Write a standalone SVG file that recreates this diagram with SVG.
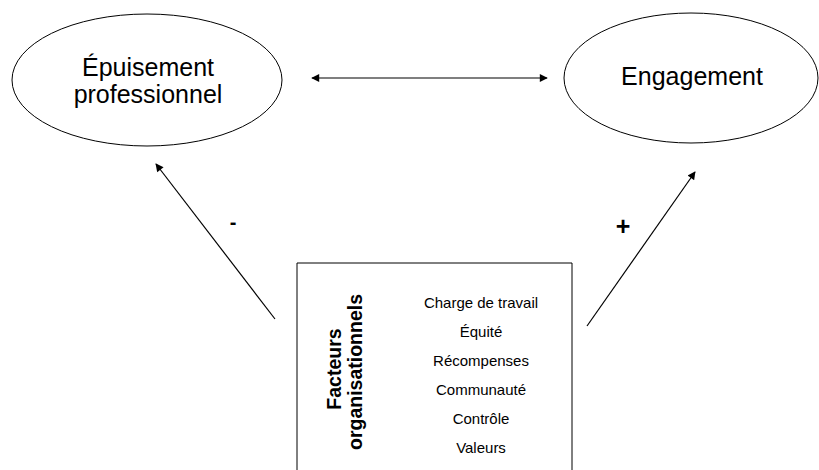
<svg xmlns="http://www.w3.org/2000/svg" width="819" height="470" viewBox="0 0 819 470">
<style>
.node{fill:#fff;stroke:#000;stroke-width:1}
.t{font-family:"Liberation Sans",Arial,sans-serif;fill:#000;text-anchor:middle}
.big{font-size:25px}
.item{font-size:15px}
.bold{font-size:19.5px;font-weight:bold}
.conn{stroke:#000;stroke-width:1.2;fill:none}
</style>
<defs>
<marker id="ah" viewBox="0 0 10 10" refX="9" refY="5" markerWidth="10" markerHeight="8" markerUnits="userSpaceOnUse" orient="auto-start-reverse">
<path d="M0,0 L10,5 L0,10 z" fill="#000"/>
</marker>
</defs>
<rect width="819" height="470" fill="#fff"/>
<g id="connectors">
<line class="conn" x1="312" y1="78" x2="547" y2="78" marker-start="url(#ah)" marker-end="url(#ah)"/>
<line class="conn" x1="275" y1="319" x2="156" y2="164" marker-end="url(#ah)"/>
<line class="conn" x1="587" y1="326" x2="695" y2="172" marker-end="url(#ah)"/>
<text class="t" x="233" y="229" style="font-size:20px;font-weight:bold">-</text>
<text class="t" x="623" y="235" style="font-size:25px;font-weight:bold">+</text>
</g>
<g id="epuisement">
<ellipse class="node" cx="147" cy="80" rx="135" ry="66"/>
<text class="t big" x="148" y="76">Épuisement</text>
<text class="t big" x="148" y="103">professionnel</text>
</g>
<g id="engagement">
<ellipse class="node" cx="691" cy="78" rx="127" ry="65"/>
<text class="t big" x="692" y="85">Engagement</text>
</g>
<g id="facteurs">
<path class="node" d="M297,472 L297,263 L572,263 L572,472"/>
<text class="t bold" transform="translate(341,369) rotate(-90)">Facteurs</text>
<text class="t bold" transform="translate(362,372) rotate(-90)">organisationnels</text>
<text class="t item" x="481" y="308">Charge de travail</text>
<text class="t item" x="481" y="337">Équité</text>
<text class="t item" x="481" y="366">Récompenses</text>
<text class="t item" x="481" y="395">Communauté</text>
<text class="t item" x="481" y="424">Contrôle</text>
<text class="t item" x="481" y="453">Valeurs</text>
</g>
</svg>
